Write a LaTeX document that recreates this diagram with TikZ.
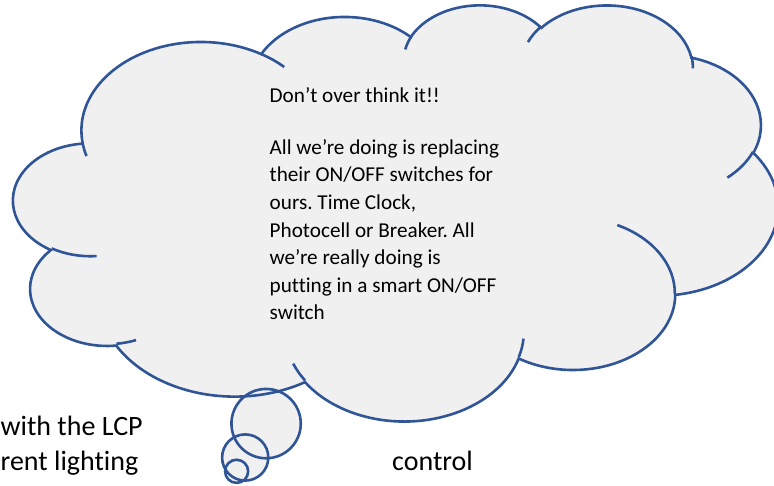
\documentclass[tikz,border=0pt]{standalone}
\usepackage{fontspec}
\setmainfont{Carlito}[Ligatures=NoCommon]
\definecolor{cloudline}{HTML}{2F5597}
\definecolor{cloudfill}{HTML}{F0F0F0}
% convert a DrawingML arc (visual angles) into parametric start/end angles
\newcommand\defarc[5]{%
  \pgfmathsetmacro\ootmp{atan2((#2)*sin(#4),(#3)*cos(#4))}%
  \pgfmathsetmacro\ootmpa{\ootmp+360*round(((#4)-\ootmp)/360)}%
  \pgfmathsetmacro\ootmp{atan2((#2)*sin((#4)+(#5)),(#3)*cos((#4)+(#5)))}%
  \pgfmathsetmacro\ootmpb{\ootmp+360*round(((#4)+(#5)-\ootmp)/360)}%
  \expandafter\global\expandafter\let\csname oo#1s\endcsname\ootmpa
  \expandafter\global\expandafter\let\csname oo#1e\endcsname\ootmpb
}
\begin{document}
\frenchspacing
\begin{tikzpicture}[x=1pt,y=1pt,yscale=-1,
  cloudshape/.style={draw=cloudline,fill=cloudfill,line width=2.6pt},
  cloudedge/.style={draw=cloudline,line width=2.6pt},
  bubblefill/.style={fill=cloudfill},
  txt/.style={inner sep=0pt,anchor=base west,font=\fontsize{21.2}{25}\selectfont},
  bigtxt/.style={inner sep=0pt,font=\fontsize{28}{34}\selectfont}]
\useasboundingbox (0,0) rectangle (774,485);
\defarc{A}{67.53}{91.90}{-190.48748}{123.78053}
\defarc{B}{53.33}{72.67}{-144.10238}{89.94523}
\defarc{C}{43.65}{59.45}{-145.80792}{99.72302}
\defarc{D}{48.57}{65.95}{-130.98607}{117.24173}
\defarc{E}{53.33}{72.73}{-78.70888}{109.02692}
\defarc{F}{67.75}{92.20}{-46.26725}{130.26900}
\defarc{G}{57.85}{78.67}{0.62502}{114.03333}
\defarc{H}{67.52}{92.15}{22.45160}{115.17255}
\defarc{I}{77.20}{105.43}{66.24263}{75.71102}
\defarc{J}{43.60}{59.18}{-274.94208}{146.73557}
\defarc{K}{43.45}{59.45}{-246.82850}{152.51885}
\defarc{P}{43.45}{59.45}{86.74200}{26.42950}
\defarc{Q}{43.60}{59.18}{73.61047}{11.44747}
\defarc{R}{67.52}{92.15}{137.62415}{14.08110}
\defarc{S}{67.52}{92.15}{6.45327}{15.99835}
\defarc{T}{57.85}{78.67}{-70.29235}{70.91737}
\defarc{U}{53.33}{72.73}{30.31803}{27.75150}
\defarc{V}{48.57}{65.95}{-13.74433}{14.85890}
\defarc{W}{48.57}{65.95}{-149.18145}{18.19537}
\defarc{X}{43.65}{59.45}{-163.49427}{17.68635}
\defarc{Y}{67.53}{91.90}{-66.70695}{12.31935}
\defarc{Z}{67.53}{91.90}{157.65435}{11.85817}
% thought bubbles: fills first
\coordinate (c1) at (266.1,423.6);
\coordinate (c2) at (245.2,457.5);
\coordinate (c3) at (236.6,471.3);
\fill[bubblefill] (c1) circle[radius=34.67pt];
\fill[bubblefill] (c2) circle[radius=23.11pt];
\fill[bubblefill] (c3) circle[radius=11.56pt];
% cloud
\begin{scope}[shift={(13.5,4)},xscale=1.7692,yscale=0.963]
\filldraw[cloudshape] (39.00,143.70)
  arc[start angle=\ooAs,end angle=\ooAe,x radius=67.53pt,y radius=91.90pt]
  arc[start angle=\ooBs,end angle=\ooBe,x radius=53.33pt,y radius=72.67pt]
  arc[start angle=\ooCs,end angle=\ooCe,x radius=43.65pt,y radius=59.45pt]
  arc[start angle=\ooDs,end angle=\ooDe,x radius=48.57pt,y radius=65.95pt]
  arc[start angle=\ooEs,end angle=\ooEe,x radius=53.33pt,y radius=72.73pt]
  arc[start angle=\ooFs,end angle=\ooFe,x radius=67.75pt,y radius=92.20pt]
  arc[start angle=\ooGs,end angle=\ooGe,x radius=57.85pt,y radius=78.67pt]
  arc[start angle=\ooHs,end angle=\ooHe,x radius=67.52pt,y radius=92.15pt]
  arc[start angle=\ooIs,end angle=\ooIe,x radius=77.20pt,y radius=105.43pt]
  arc[start angle=\ooJs,end angle=\ooJe,x radius=43.60pt,y radius=59.18pt]
  arc[start angle=\ooKs,end angle=\ooKe,x radius=43.45pt,y radius=59.45pt]
  -- cycle;
\draw[cloudedge] (46.93,261.77) arc[start angle=\ooPs,end angle=\ooPe,x radius=43.45pt,y radius=59.45pt];
\draw[cloudedge] (69.28,348.99) arc[start angle=\ooQs,end angle=\ooQe,x radius=43.60pt,y radius=59.18pt];
\draw[cloudedge] (164.78,390.90) arc[start angle=\ooRs,end angle=\ooRe,x radius=67.52pt,y radius=92.15pt];
\draw[cloudedge] (288.27,347.51) arc[start angle=\ooSs,end angle=\ooSe,x radius=67.52pt,y radius=92.15pt];
\draw[cloudedge] (341.29,229.54) arc[start angle=\ooTs,end angle=\ooTe,x radius=57.85pt,y radius=78.67pt];
\draw[cloudedge] (417.98,153.54) arc[start angle=\ooUs,end angle=\ooUe,x radius=53.33pt,y radius=72.73pt];
\draw[cloudedge] (383.24,54.26) arc[start angle=\ooVs,end angle=\ooVe,x radius=48.57pt,y radius=65.95pt];
\draw[cloudedge] (290.78,39.52) arc[start angle=\ooWs,end angle=\ooWe,x radius=48.57pt,y radius=65.95pt];
\draw[cloudedge] (221.41,47.20) arc[start angle=\ooXs,end angle=\ooXe,x radius=43.65pt,y radius=59.45pt];
\draw[cloudedge] (140.00,51.92) arc[start angle=\ooYs,end angle=\ooYe,x radius=67.53pt,y radius=91.90pt];
\draw[cloudedge] (41.27,157.89) arc[start angle=\ooZs,end angle=\ooZe,x radius=67.53pt,y radius=91.90pt];
\end{scope}
% thought bubbles: outlines
\draw[cloudedge] (c1) circle[radius=34.67pt];
\draw[cloudedge] (c2) circle[radius=23.11pt];
\draw[cloudedge] (c3) circle[radius=11.56pt];
% text in the cloud
\node[txt] (t0) at (269.5,102.7) {Don’t over think it!!};
\node[txt] (t1) at (269.5,154.3) {All we’re doing is replacing};
\node[txt] (t2) at (269.5,181.9) {their ON/OFF switches for};
\node[txt] (t3) at (269.5,209.5) {ours. Time Clock,};
\node[txt] (t4) at (269.5,237.1) {Photocell or Breaker. All};
\node[txt] (t5) at (269.5,264.7) {we’re really doing is};
\node[txt] (t6) at (269.5,292.3) {putting in a smart ON/OFF};
\node[txt] (t7) at (269.5,319.9) {switch};
% text around
\node[bigtxt,anchor=base west] (b1) at (0.4,435) {with the LCP};
\node[bigtxt,anchor=base east] (b2) at (138.5,470.5) {rent lighting};
\node[bigtxt,anchor=base west] (b3) at (392,470.7) {control};
\end{tikzpicture}
\end{document}
